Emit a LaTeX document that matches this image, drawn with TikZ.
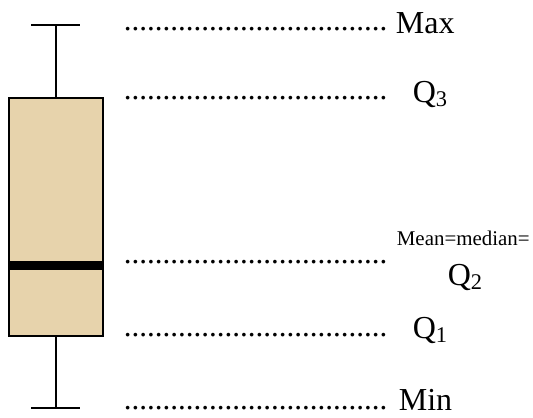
\documentclass[tikz,border=0pt]{standalone}
\usepackage{fontspec}
\setmainfont{Liberation Serif}
\definecolor{boxtan}{RGB}{231,211,172}
\begin{document}
\begin{tikzpicture}[x=0.75pt, y=-0.75pt, line width=1.3pt,
  dots/.style = {anchor=base west, inner sep=0pt, font=\fontsize{23.25}{28}\selectfont},
  lbl/.style = {anchor=base west, inner sep=0pt, font=\fontsize{24}{28}\selectfont},
  small/.style = {anchor=base west, inner sep=0pt, font=\fontsize{15.7}{18}\selectfont}]
  \useasboundingbox (0,0) rectangle (533,418);
  % box and median
  \node[draw, fill=boxtan, minimum width=70.9pt, minimum height=179pt, inner sep=0pt] (box) at (56,217) {};
  \node[fill=black, minimum width=72pt, minimum height=6.75pt, inner sep=0pt] (median) at (56,265.5) {};
  % whiskers
  \coordinate (maxL) at (31,25); \coordinate (maxR) at (80,25);
  \coordinate (minL) at (31,408); \coordinate (minR) at (80,408);
  \draw (box.north) -- (box.north |- maxL);
  \draw (box.south) -- (box.south |- minL);
  \draw (maxL) -- (maxR);
  \draw (minL) -- (minR);
  % dotted leaders
  \foreach \name/\y in {dMax/30.5, dQthree/99.5, dMed/263.5, dQone/336.5, dMin/409.5}
    \node[dots] (\name) at (123,\y) {..................................};
  % labels
  \node[lbl] (max) at (395,33) {Max};
  \node[lbl] (qthree) at (412,102) {Q\textsubscript{3}};
  \node[small] (mean) at (396,245) {Mean=median=};
  \node[lbl] (qtwo) at (447,285) {Q\textsubscript{2}};
  \node[lbl] (qone) at (412,338) {Q\textsubscript{1}};
  \node[lbl] (min) at (398,410) {Min};
\end{tikzpicture}
\end{document}
